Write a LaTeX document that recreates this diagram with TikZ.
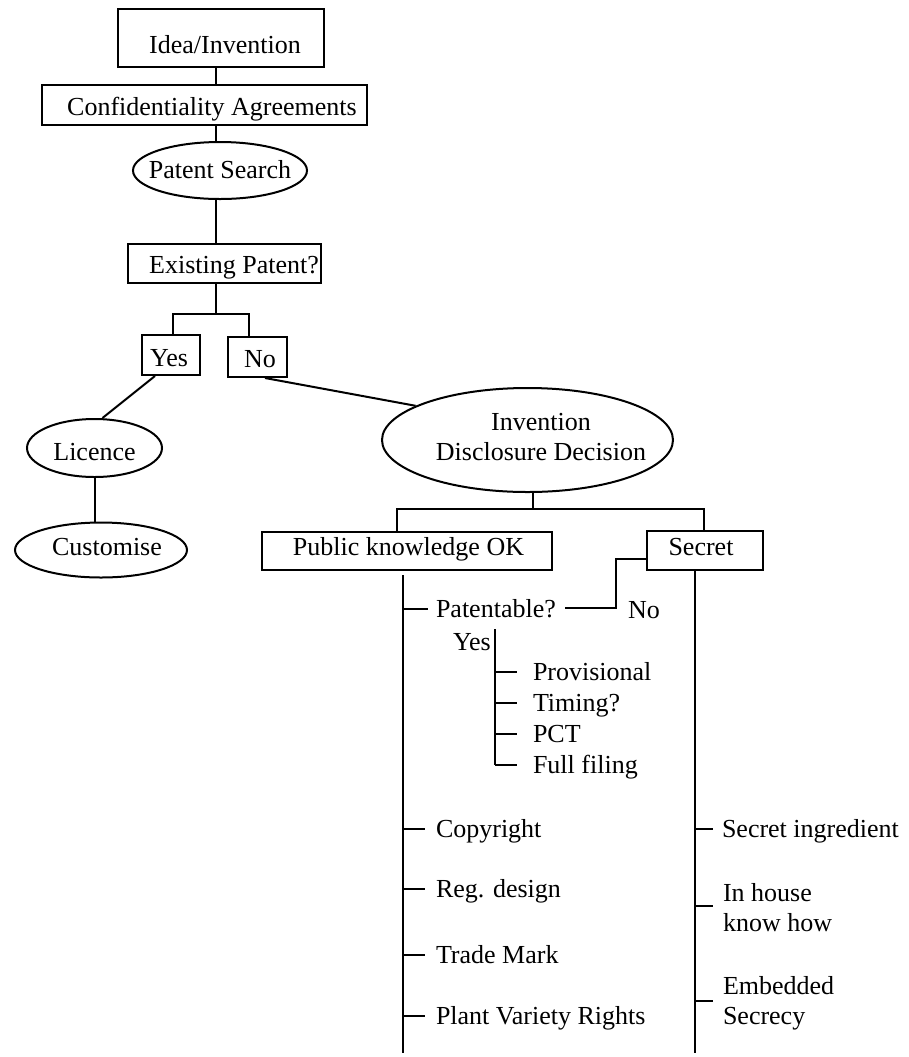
\documentclass[tikz,border=0pt]{standalone}
\usepackage{fontspec}
\setmainfont{Liberation Serif}
\usetikzlibrary{shapes.geometric}

\tikzset{
  box/.style={rectangle,draw=black,line width=1pt,inner sep=0pt},
  oval/.style={ellipse,draw=black,line width=1pt,inner sep=0pt},
  txt/.style={text height=.8em,text depth=0pt,inner sep=0pt},
  item/.style={txt,anchor=west},
  twoline/.style={inner sep=0pt,anchor=west,align=left},
}

\begin{document}
\begin{tikzpicture}[x=0.5pt,y=-0.5pt,line width=1pt,font=\fontsize{13}{15}\selectfont]
\useasboundingbox (0,0) rectangle (909,1057);

% main chain
\node[box,minimum width=103pt,minimum height=29pt,label={[txt,xshift=2pt,yshift=-3.5pt]center:Idea/Invention}] (idea) at (221,38) {};
\node[box,minimum width=162.5pt,minimum height=20pt,label={[txt,xshift=3.75pt,yshift=-1pt]center:Confidentiality Agreements}] (conf) at (204.5,105) {};
\node[oval,minimum width=87pt,minimum height=28.5pt,label={[txt]center:Patent Search}] (ps) at (220,170.5) {};
\node[box,minimum width=96.5pt,minimum height=19.5pt,label={[txt,xshift=4.75pt,yshift=-.75pt]center:Existing Patent?}] (exist) at (224.5,263.5) {};

\node[box,minimum width=29pt,minimum height=20pt,label={[txt,xshift=-1pt,yshift=-1.5pt]center:Yes}] (yes) at (171,355) {};
\node[box,minimum width=29.5pt,minimum height=20pt,label={[txt,xshift=1.25pt,yshift=-1pt]center:No}] (no) at (257.5,357) {};

\node[oval,minimum width=67.5pt,minimum height=29pt,label={[txt,yshift=-2pt]center:Licence}] (licence) at (94.5,448) {};
\node[oval,minimum width=86pt,minimum height=27.5pt,label={[txt,xshift=3pt,yshift=1.5pt]center:Customise}] (custom) at (101,550) {};

\node[oval,minimum width=145.5pt,minimum height=52pt,label={[align=center,inner sep=0pt,xshift=6.75pt,yshift=1.25pt]center:Invention\\Disclosure Decision}] (idd) at (527.5,440) {};

\node[box,minimum width=145pt,minimum height=19pt,label={[txt,xshift=.75pt,yshift=2pt]center:Public knowledge OK}] (pub) at (407,551) {};
\node[box,minimum width=58pt,minimum height=19.5pt,label={[txt,xshift=-2pt,yshift=1.75pt]center:Secret}] (secret) at (705,550.5) {};

\coordinate (trunk) at (216,0);
\coordinate (yn) at (216,314);
\coordinate (pd) at (533,509);
\coordinate (pubtop) at (403,575);
\coordinate (pubbot) at (403,1053);
\coordinate (ytop) at (495,629);
\coordinate (ybot) at (495,765);
\coordinate (nocorner) at (616,608);
\coordinate (secbot) at (695,1053);

\draw (idea.south -| trunk) -- (conf.north -| trunk);
\draw (conf.south -| trunk) -- (ps.north -| trunk);
\draw (ps.south -| trunk) -- (exist.north -| trunk);
\draw (exist.south -| yn) -- (yn);
\draw ([xshift=1pt]yes.north) |- ([xshift=-4.25pt]no.north |- yn) -- ([xshift=-4.25pt]no.north);
\draw ([xshift=-8pt]yes.south) -- ([xshift=4pt]licence.north);
\draw (licence.south) -- (licence.south |- custom.north);
\draw ([xshift=3.75pt]no.south) -- (idd.163);
\draw ([xshift=2.75pt]idd.south) -- (pd);
\draw ([xshift=-5pt]pub.north) |- (pd) -| ([xshift=-.5pt]secret.north);

% public knowledge side
\draw (pubtop) -- (pubbot);
\node[item] (patent) at (435,609) {Patentable?};
\node[item] (noP) at (627,610) {No};
\node[item] (yesP) at (452,642) {Yes};
\draw (patent.west -| pubtop) -- ++(25,0);
\draw ([yshift=-4.25pt]secret.west) -| (nocorner) -- ([xshift=4pt]patent.east |- nocorner);

\draw (ytop) -- (ybot);
\node[item] (prov) at (532,672) {Provisional};
\node[item] (timing) at (532,703) {Timing?};
\node[item] (pct) at (532,734) {PCT};
\node[item] (full) at (532,765) {Full filing};
\draw (prov.west -| ytop) -- ++(22,0);
\draw (timing.west -| ytop) -- ++(22,0);
\draw (pct.west -| ytop) -- ++(22,0);
\draw (full.west -| ytop) -- ++(22,0);

\node[item] (copy) at (435,829) {Copyright};
\node[item] (regd) at (435,889) {Reg. design};
\node[item] (trade) at (435,955) {Trade Mark};
\node[item] (plant) at (435,1016) {Plant Variety Rights};
\draw (copy.west -| pubtop) -- ++(22,0);
\draw (regd.west -| pubtop) -- ++(22,0);
\draw (trade.west -| pubtop) -- ++(22,0);
\draw (plant.west -| pubtop) -- ++(22,0);

% secret side
\draw ([xshift=-5pt]secret.south) -- (secbot);
\node[item] (ingr) at (721,829) {Secret ingredient};
\node[twoline] (house) at (722,908) {In house\\know how};
\node[twoline] (embed) at (722,1003) {Embedded\\Secrecy};
\draw (ingr.west -| secbot) -- ++(18,0);
\draw ([yshift=1pt]house.west -| secbot) -- ++(18,0);
\draw ([yshift=1pt]embed.west -| secbot) -- ++(18,0);

\end{tikzpicture}
\end{document}
